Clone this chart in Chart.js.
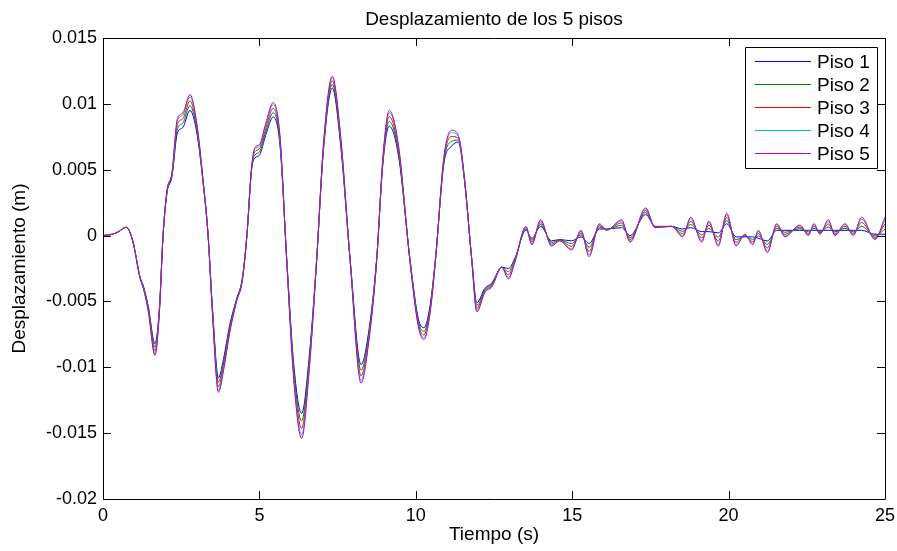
<!DOCTYPE html>
<html>
<head>
<meta charset="utf-8">
<script src="https://cdn.jsdelivr.net/npm/chart.js@4"></script>
<style>
html,body{margin:0;padding:0;background:#fff;}
#c{display:block;}
</style>
</head>
<body>
<canvas id="c" width="897" height="551"></canvas>
<script>
const tituloGrafico = 'Desplazamiento de los 5 pisos';
const tituloX = 'Tiempo (s)';
const tituloY = 'Desplazamiento (m)';
const nombresSeries = ['Piso 1', 'Piso 2', 'Piso 3', 'Piso 4', 'Piso 5'];
const coloresSeries = ['#0000ff', '#008000', '#ff0000', '#00bfbf', '#bf00bf'];
const ticksX = [0, 5, 10, 15, 20, 25];
const ticksY = [-0.02, -0.015, -0.01, -0.005, 0, 0.005, 0.01, 0.015];
const etiquetasY = ['-0.02', '-0.015', '-0.01', '-0.005', '0', '0.005', '0.01', '0.015'];

const tiempo = [0,0.3,0.5,0.74,0.95,1.18,1.3,1.45,1.66,1.8,1.92,2.05,2.2,2.38,2.55,2.78,3.0,3.2,3.36,3.5,3.69,3.85,4.05,4.27,4.45,4.6,4.75,4.86,5.0,5.2,5.44,5.66,5.87,6.1,6.35,6.6,6.83,7.05,7.33,7.6,7.9,8.25,8.5,8.75,8.95,9.15,9.45,9.81,10.08,10.26,10.45,10.63,10.9,11.15,11.36,11.55,11.79,11.95,12.21,12.43,12.75,12.96,13.17,13.52,13.71,13.99,14.34,14.6,14.98,15.28,15.54,15.87,16.1,16.58,16.85,17.35,17.65,18.18,18.53,18.79,19.14,19.37,19.67,19.94,20.24,20.52,20.77,20.95,21.24,21.54,21.8,22.28,22.55,22.73,22.92,23.19,23.4,23.72,23.99,24.25,24.68,25.0];

const piso1 = [
0,0.0001,0.0003,0.00063,-0.0004,
-0.0031,-0.0039,-0.0054,-0.0082,-0.0056,
0,0.0033,0.0044,0.0078,0.0082,
0.0095,0.0078,0.0040,0,-0.0055,
-0.0108,-0.0094,-0.0068,-0.0048,-0.0033,
0,0.0050,0.0059,0.0061,0.0076,
0.0090,0.0068,-0.0016,-0.0098,-0.0135,
-0.0090,-0.0018,0.0065,0.0112,0.0068,
-0.0018,-0.0098,-0.0072,-0.0017,0.0055,
0.0083,0.0060,-0.0017,-0.0063,-0.0070,
-0.0054,-0.0017,0.0055,0.0068,0.0071,
0.0043,-0.0018,-0.0051,-0.0040,-0.0036,
-0.0024,-0.0025,-0.0017,0.0004,-0.0002,
0.0007,-0.0004,-0.0003,-0.0004,-0.0001,
-0.0006,0.0005,0.0005,0.0006,0.0000,
0.0016,0.0007,0.0007,0.0005,0.0006,
0.0003,0.0003,0.0002,0.0009,-0.0001,
-0.0001,-0.0001,-0.0002,-0.0004,0.0004,
0.0004,0.0004,0.0004,0.0004,0.0004,
0.0004,0.0004,0.0004,0.0004,0.0004,
0.0001,0.0001];

const piso2 = [
0,0.0001,0.0003,0.00063,-0.0004,
-0.00313,-0.00396,-0.00552,-0.00847,-0.0057,
0,0.00336,0.00449,0.00813,0.00853,
0.00986,0.00801,0.00406,0,-0.00565,
-0.01113,-0.00967,-0.00698,-0.00486,-0.00336,
0,0.00506,0.00614,0.00634,0.00787,
0.00933,0.00701,-0.00166,-0.01016,-0.01407,
-0.0093,-0.00183,0.00665,0.01147,0.00701,
-0.00183,-0.01022,-0.00744,-0.00176,0.00565,
0.00866,0.00624,-0.00176,-0.00648,-0.00727,
-0.00558,-0.00176,0.00565,0.00716,0.00725,
0.00436,-0.00183,-0.00531,-0.00409,-0.00369,
-0.0024,-0.00274,-0.0018,0.00049,-0.00035,
0.00085,-0.00052,-0.00033,-0.00061,0.00005,
-0.0009,0.00062,0.00047,0.00078,-0.00015,
0.00175,0.00067,0.0007,0.00032,0.00084,
0.00006,0.00054,-0.00011,0.00114,-0.00031,
-0.00004,-0.00029,-0.00002,-0.00067,0.00055,
0.00025,0.00052,0.00028,0.00055,0.00031,
0.00064,0.00028,0.00055,0.00028,0.0007,
-0.00002,0.00049];

const piso3 = [
0,0.0001,0.0003,0.00063,-0.0004,
-0.00316,-0.00402,-0.00564,-0.00874,-0.0058,
0,0.00342,0.00458,0.00846,0.00886,
0.01022,0.00822,0.00412,0,-0.0058,
-0.01146,-0.00994,-0.00716,-0.00492,-0.00342,
0,0.00512,0.00638,0.00658,0.00814,
0.00966,0.00722,-0.00172,-0.01052,-0.01464,
-0.0096,-0.00186,0.0068,0.01174,0.00722,
-0.00186,-0.01064,-0.00768,-0.00182,0.0058,
0.00902,0.00648,-0.00182,-0.00666,-0.00754,
-0.00576,-0.00182,0.0058,0.00752,0.0074,
0.00442,-0.00186,-0.00552,-0.00418,-0.00378,
-0.0024,-0.00298,-0.0019,0.00058,-0.0005,
0.001,-0.00064,-0.00036,-0.00082,0.0002,
-0.0012,0.00074,0.00044,0.00096,-0.0003,
0.0019,0.00064,0.0007,0.00014,0.00108,
-0.00018,0.00078,-0.00042,0.00138,-0.00052,
0.00002,-0.00046,0.00016,-0.00094,0.0007,
0.0001,0.00064,0.00016,0.0007,0.00022,
0.00088,0.00016,0.0007,0.00016,0.001,
-0.00014,0.00088];

const piso4 = [
0,0.0001,0.0003,0.00063,-0.0004,
-0.00319,-0.00407,-0.00574,-0.00897,-0.0059,
0,0.00347,0.00466,0.00874,0.00914,
0.01052,0.0084,0.00417,0,-0.00593,
-0.01174,-0.01017,-0.00731,-0.00497,-0.00347,
0,0.00517,0.00658,0.00678,0.00837,
0.00994,0.0074,-0.00177,-0.01082,-0.01512,
-0.00985,-0.00189,0.00693,0.01197,0.0074,
-0.00189,-0.01099,-0.00788,-0.00187,0.00593,
0.00932,0.00668,-0.00187,-0.00681,-0.00777,
-0.00591,-0.00187,0.00593,0.00782,0.00753,
0.00447,-0.00189,-0.0057,-0.00426,-0.00386,
-0.0024,-0.00318,-0.00195,0.00066,-0.00063,
0.00113,-0.00074,-0.00039,-0.001,0.00033,
-0.00145,0.00084,0.00042,0.00111,-0.00043,
0.00203,0.00061,0.0007,-0.00001,0.00128,
-0.00038,0.00098,-0.00068,0.00158,-0.0007,
0.00007,-0.00061,0.00031,-0.00117,0.00083,
-0.00003,0.00074,0.00006,0.00083,0.00014,
0.00108,0.00006,0.00083,0.00006,0.00125,
-0.00024,0.00119];

const piso5 = [
0,0.0001,0.0003,0.00063,-0.0004,
-0.0032,-0.0041,-0.0058,-0.0091,-0.0060,
0,0.0035,0.0047,0.0089,0.0093,
0.0107,0.0085,0.0042,0,-0.0060,
-0.0119,-0.0103,-0.0074,-0.0050,-0.0035,
0,0.0052,0.0067,0.0069,0.0085,
0.0101,0.0075,-0.0018,-0.0110,-0.0154,
-0.0100,-0.0019,0.0070,0.0121,0.0075,
-0.0019,-0.0112,-0.0080,-0.0019,0.0060,
0.0095,0.0068,-0.0019,-0.0069,-0.0079,
-0.0060,-0.0019,0.0060,0.0080,0.0076,
0.0045,-0.0019,-0.0058,-0.0043,-0.0039,
-0.0024,-0.0033,-0.0020,0.0007,-0.0007,
0.0012,-0.0008,-0.0004,-0.0011,0.0004,
-0.0016,0.0009,0.0004,0.0012,-0.0005,
0.0021,0.0006,0.0007,-0.0001,0.0014,
-0.0005,0.0011,-0.0008,0.0017,-0.0008,
0.0001,-0.0007,0.0004,-0.0013,0.0009,
-0.0001,0.0008,0,0.0009,0.0001,
0.0012,0,0.0009,0,0.0014,
-0.0003,0.0014];

const series = [piso1, piso2, piso3, piso4, piso5];

const FONT = '"Liberation Sans", Arial, Helvetica, sans-serif';

const datasets = series.map((vals, i) => ({
  label: nombresSeries[i],
  data: vals.map((v, k) => ({x: tiempo[k], y: v})),
  borderColor: coloresSeries[i],
  backgroundColor: coloresSeries[i],
  borderWidth: 1,
  pointRadius: 0,
  fill: false,
  cubicInterpolationMode: 'monotone',
  order: series.length - i
}));

const framePlugin = {
  id: 'framePlugin',
  afterDatasetsDraw(chart) {
    const {ctx, chartArea: a, scales} = chart;
    const sx = scales.x, sy = scales.y;
    ctx.save();
    ctx.strokeStyle = '#000';
    ctx.lineWidth = 1;
    ctx.beginPath();
    ctx.rect(Math.round(a.left) + 0.5, Math.round(a.top) + 0.5, Math.round(a.right - a.left), Math.round(a.bottom - a.top));
    const L = 8;
    sx.ticks.forEach(t => {
      const px = Math.round(sx.getPixelForValue(t.value)) + 0.5;
      ctx.moveTo(px, a.bottom); ctx.lineTo(px, a.bottom - L);
      ctx.moveTo(px, a.top); ctx.lineTo(px, a.top + L);
    });
    sy.ticks.forEach(t => {
      const py = Math.round(sy.getPixelForValue(t.value)) + 0.5;
      ctx.moveTo(a.left, py); ctx.lineTo(a.left + L, py);
      ctx.moveTo(a.right, py); ctx.lineTo(a.right - L, py);
    });
    ctx.stroke();

    // title
    ctx.fillStyle = '#000';
    ctx.font = '19px ' + FONT;
    ctx.textAlign = 'center';
    ctx.textBaseline = 'alphabetic';
    ctx.fillText(tituloGrafico, (a.left + a.right) / 2, 25);

    // legend
    const bx = a.right - 140, by = a.top + 9, bw = 132, bh = 121;
    ctx.fillStyle = '#fff';
    ctx.fillRect(bx, by, bw, bh);
    ctx.beginPath();
    ctx.rect(Math.round(bx) + 0.5, Math.round(by) + 0.5, bw, bh);
    ctx.strokeStyle = '#000';
    ctx.stroke();
    ctx.font = '19px ' + FONT;
    ctx.textAlign = 'left';
    ctx.textBaseline = 'middle';
    chart.data.datasets.forEach((ds, i) => {
      const ry = Math.round(by + 14 + i * 23.1) + 0.5;
      ctx.beginPath();
      ctx.strokeStyle = ds.borderColor;
      ctx.lineWidth = 1.2;
      ctx.moveTo(bx + 10, ry);
      ctx.lineTo(bx + 66, ry);
      ctx.stroke();
      ctx.fillStyle = '#000';
      ctx.fillText(ds.label, bx + 72, ry + 1);
    });
    ctx.restore();
  }
};

new Chart(document.getElementById('c'), {
  type: 'line',
  data: {datasets},
  options: {
    responsive: false,
    animation: false,
    devicePixelRatio: 1,
    layout: {padding: {top: 38, right: 12, bottom: 0, left: 0}},
    plugins: {
      legend: {display: false},
      title: {display: false},
      tooltip: {enabled: false}
    },
    scales: {
      x: {
        type: 'linear',
        min: 0, max: 25,
        grid: {display: false, drawTicks: false},
        border: {display: false},
        afterBuildTicks: s => { s.ticks = ticksX.map(v => ({value: v})); },
        afterFit: s => { s.height = 52; s.paddingLeft = 0; s.paddingRight = 0; },
        ticks: {
          color: '#000',
          font: {family: FONT, size: 18},
          padding: 6,
          maxRotation: 0,
          autoSkip: false,
          callback: v => String(v)
        },
        title: {
          display: true, text: tituloX, color: '#000',
          font: {family: FONT, size: 19},
          padding: {top: 0, bottom: 5}
        }
      },
      y: {
        type: 'linear',
        min: -0.02, max: 0.015,
        grid: {display: false, drawTicks: false},
        border: {display: false},
        afterBuildTicks: s => { s.ticks = ticksY.map(v => ({value: v})); },
        afterFit: s => { s.width = 103; s.paddingTop = 0; s.paddingBottom = 0; },
        ticks: {
          color: '#000',
          font: {family: FONT, size: 18},
          padding: 6,
          autoSkip: false,
          callback: v => { const i = ticksY.findIndex(t => Math.abs(t - v) < 1e-9); return i >= 0 ? etiquetasY[i] : ''; }
        },
        title: {
          display: true, text: tituloY, color: '#000',
          font: {family: FONT, size: 19},
          padding: {top: 8, bottom: 0}
        }
      }
    }
  },
  plugins: [framePlugin]
});
</script>
</body>
</html>
